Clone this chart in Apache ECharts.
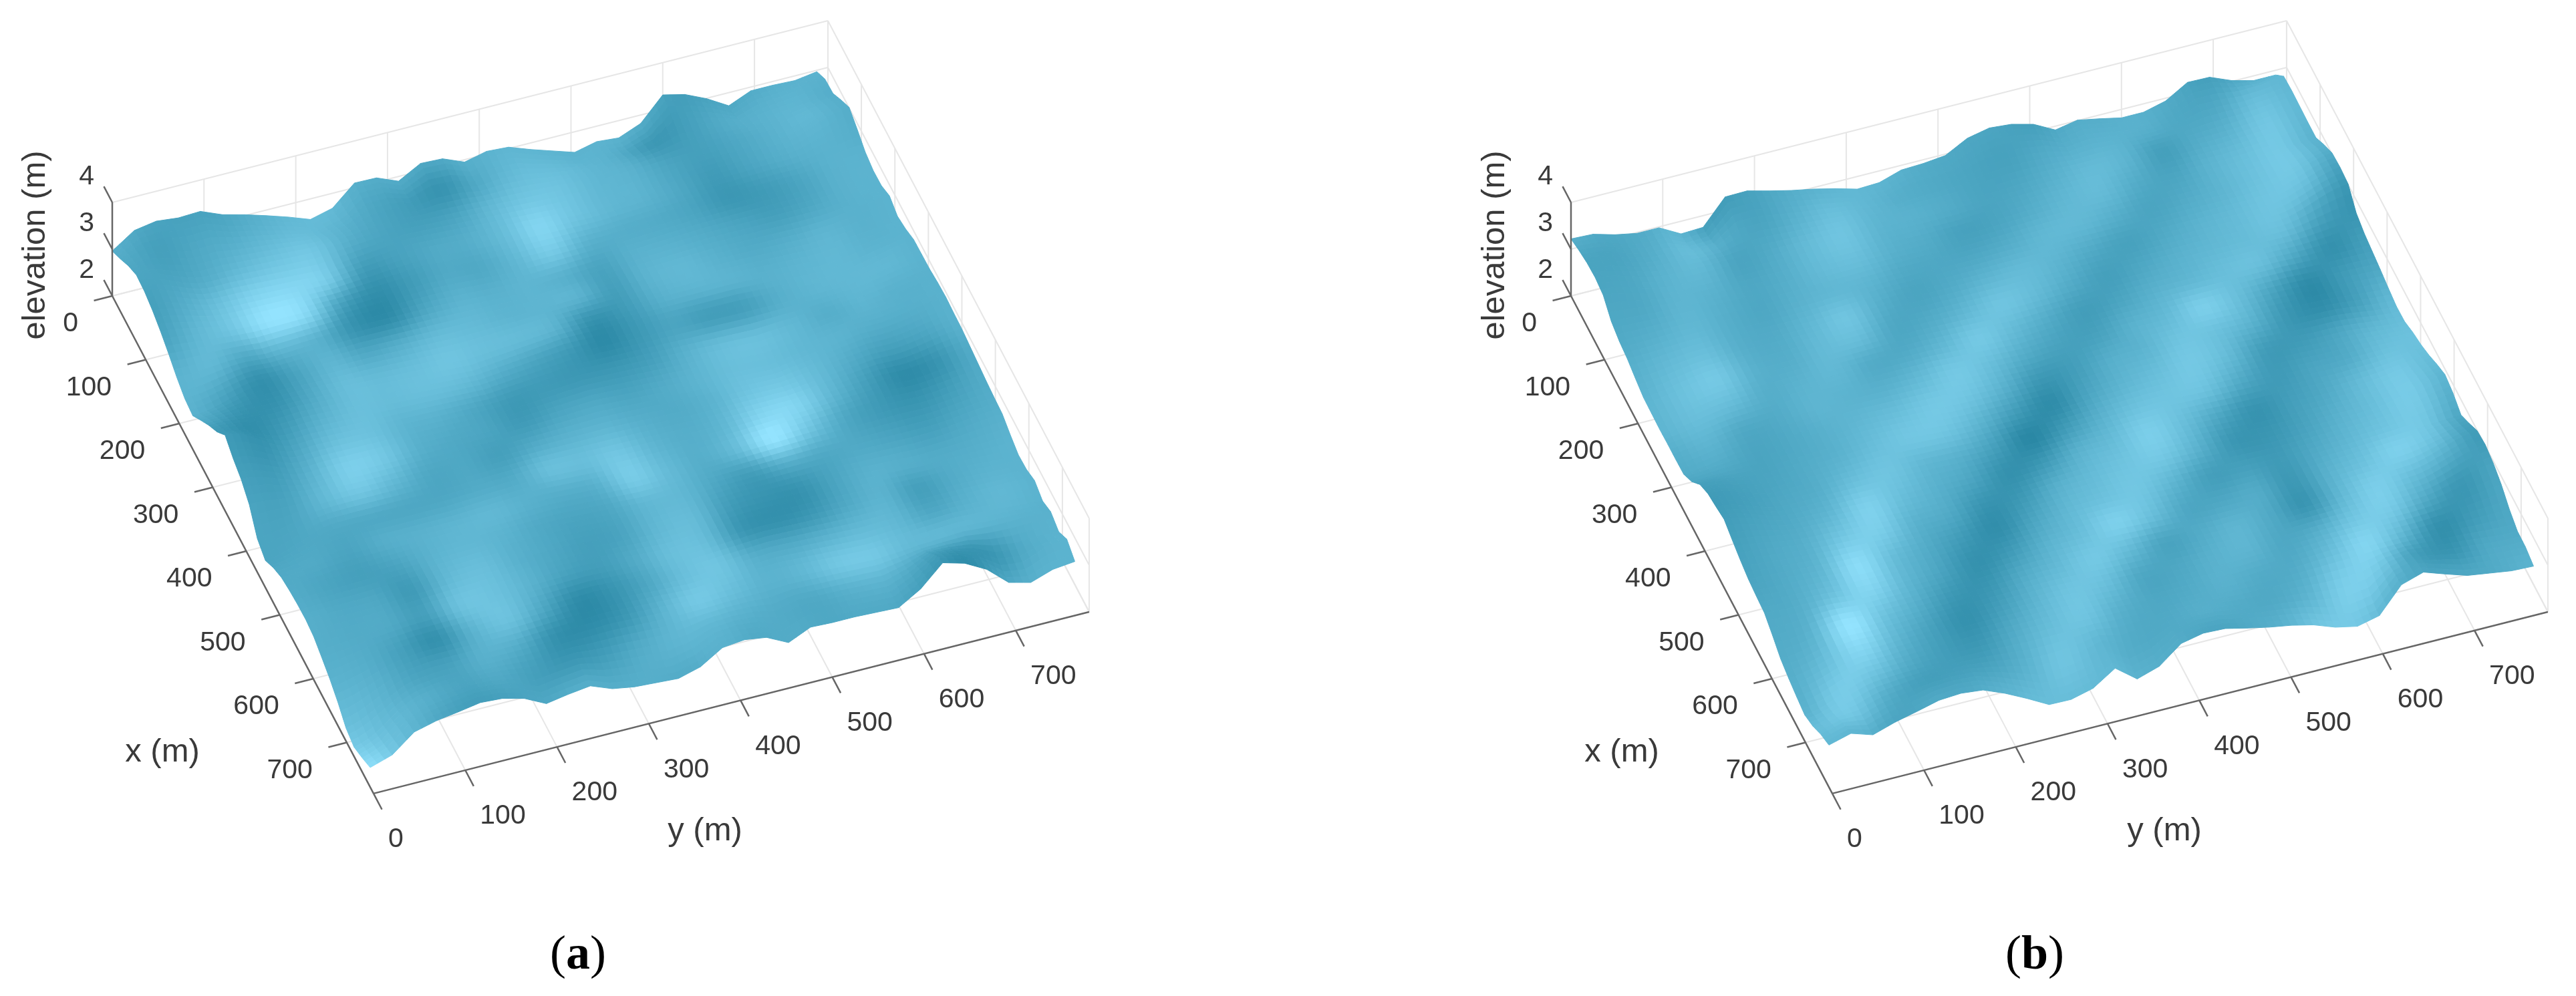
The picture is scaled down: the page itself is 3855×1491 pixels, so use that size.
<!DOCTYPE html>
<html>
<head>
<meta charset="utf-8">
<title>elevation surfaces</title>
<style>
  html, body { margin: 0; padding: 0; background: #fff; }
  #chart { width: 3855px; height: 1491px; }
</style>
<script src="https://cdn.jsdelivr.net/npm/echarts@6/dist/echarts.min.js"></script>
</head>
<body>
<div id="chart"></div>
<script>
const xTicks = [0, 100, 200, 300, 400, 500, 600, 700]
const yTicks = [0, 100, 200, 300, 400, 500, 600, 700]
const zTicks = [2, 3, 4]

// surface outline, elevation (m) read along the four sides
const backA = [2.96,3.28,3.36,3.31,3.33,3.14,3.02,2.88,2.73,2.56,2.68,3.10,3.09,2.90,3.16,3.14,2.95,3.06,3.03,2.86,2.71,2.56,2.67,2.63,2.82,3.31,3.20,2.99,2.72,2.92,2.92,2.90,2.97]
const rightA = [2.97,3.14,3.16,3.35,3.52,3.38,3.22,3.15,3.16,3.27,3.16,3.22,3.32,3.33,3.34,3.38,3.40,3.38,3.37,3.33,3.29,3.25,3.22,3.20,3.08,2.98,3.00,3.09,2.98,3.08,2.98,3.15,3.00]
const leftA = [2.96,3.12,3.30,3.43,3.41,3.33,3.21,3.06,2.89,2.76,2.72,2.95,3.17,3.36,3.62,3.45,3.33,3.12,2.72,2.58,2.75,2.87,2.92,2.95,2.96,2.92,2.80,2.67,2.50,2.28,2.20,2.30,2.42]
const frontA = [2.42,2.57,2.94,3.06,3.13,3.21,3.18,3.06,2.83,2.91,2.97,2.79,2.71,2.68,2.65,2.78,3.07,3.12,3.05,2.82,3.03,3.01,3.01,2.99,2.97,3.25,3.69,3.56,3.31,2.91,2.79,2.95,3.00]

const backB = [3.22,3.20,3.07,2.98,2.98,2.73,2.75,3.28,3.29,3.17,3.06,2.97,2.86,2.73,2.75,2.90,2.92,2.97,3.22,3.32,3.28,3.16,2.92,3.01,2.92,2.82,2.82,2.94,3.22,3.21,3.02,2.90,2.90]
const rightB = [2.90,3.20,3.22,3.21,3.20,3.20,3.38,3.53,3.55,3.52,3.23,3.12,3.06,3.00,2.93,2.87,2.88,2.98,3.05,3.15,3.28,3.39,3.32,3.18,3.33,3.50,3.53,3.46,3.33,3.13,2.99,2.98,2.90]
const leftB = [3.22,3.30,3.36,3.38,3.33,3.10,3.00,2.95,2.86,2.78,2.77,2.76,2.77,2.77,2.78,2.95,3.22,3.35,3.40,3.46,3.35,3.25,3.17,3.13,3.10,2.95,2.78,2.69,2.62,2.56,2.65,2.80,2.90]
const frontB = [2.90,3.03,2.88,3.03,3.14,3.26,3.29,3.24,3.05,2.82,2.57,2.56,2.68,2.99,2.64,2.79,3.16,3.26,3.24,3.13,3.03,2.95,2.84,2.67,2.57,2.68,3.22,3.37,3.21,3.06,2.99,2.92,2.90]

// coarse elevation inside the surface, rows along x, columns along y
const elevA = [
  [3.0,3.1,3.1,3.0,3.0,3.0,3.1,3.0,3.0],
  [3.0,3.0,2.9,3.1,3.0,2.9,3.0,3.1,3.1],
  [3.1,2.9,3.0,3.0,2.9,3.0,3.1,3.1,3.1],
  [3.0,3.1,3.0,2.9,3.1,3.1,3.1,3.0,3.2],
  [2.9,3.0,3.0,3.0,3.1,3.0,2.9,3.2,3.2],
  [3.0,3.0,3.0,3.1,3.0,3.0,3.1,3.2,3.1],
  [2.9,3.0,3.1,3.1,3.0,3.1,3.1,3.0,3.1],
  [2.8,3.0,3.0,3.1,3.0,3.1,3.0,3.1,3.0],
  [2.6,2.9,3.0,3.0,3.0,3.0,3.0,3.2,3.0]
]
const elevB = [
  [3.2,3.1,3.1,3.0,3.0,3.0,3.0,3.0,3.0],
  [3.1,3.0,3.0,3.0,3.0,3.1,3.1,3.1,3.2],
  [3.0,3.0,3.0,3.1,3.1,3.1,3.1,3.1,3.2],
  [2.9,3.0,3.1,3.1,3.0,3.1,3.1,3.1,3.0],
  [2.9,3.0,3.1,3.0,3.0,3.1,3.1,3.0,3.0],
  [3.2,3.1,3.0,3.0,3.1,3.1,3.0,3.0,3.1],
  [3.2,3.0,3.0,3.1,3.1,3.0,3.0,3.1,3.2],
  [3.0,3.0,3.1,3.1,3.0,3.0,3.1,3.1,3.2],
  [2.8,3.1,3.0,3.0,3.1,3.0,3.1,3.1,3.0]
]

// surface brightness 0 (dark) .. 100 (light), rows along x, columns along y
const shadeA = [
  [45,35,32,35,45,55,58,45,42,38,45,52,52,50,50,42,28,35,42,48,50],
  [40,30,38,45,55,62,52,38,28,18,40,58,62,55,45,22,30,42,48,52,45],
  [35,35,45,60,70,72,45,35,30,35,55,70,68,55,50,35,30,38,48,55,45],
  [30,45,65,85,88,75,28,32,40,45,60,85,68,55,50,38,25,35,45,50,45],
  [35,55,70,98,90,35,12,25,40,40,55,75,50,45,42,35,22,25,35,48,50],
  [50,55,40,55,50,18,10,35,50,48,52,48,35,48,48,42,35,30,38,48,50],
  [50,35,15,35,52,38,45,58,58,52,52,50,30,50,55,48,42,45,52,48,50],
  [40,20,15,38,60,58,62,68,62,58,50,18,25,45,50,50,48,52,55,50,50],
  [25,12,25,48,62,60,62,58,45,35,25,8,22,35,28,30,45,52,55,55,50],
  [25,18,38,62,65,52,48,38,25,25,22,22,30,48,60,62,55,45,52,48,48],
  [30,28,50,78,72,48,40,35,25,35,38,35,42,52,62,62,55,50,45,45,48],
  [35,35,55,70,55,38,38,30,42,50,52,45,42,50,68,72,58,42,30,35,48],
  [35,38,40,40,38,38,42,42,62,62,70,52,45,55,85,85,55,30,10,18,42],
  [40,40,35,45,48,52,55,48,45,48,75,58,45,60,100,70,40,25,18,28,42],
  [42,35,30,35,50,55,50,40,35,38,55,55,38,28,45,40,40,35,30,38,45],
  [45,40,38,25,55,62,48,38,30,35,55,58,28,18,18,35,48,45,42,45,50],
  [45,42,40,30,65,65,50,32,28,42,62,60,22,15,22,40,50,30,42,50,50],
  [50,45,30,15,50,65,38,10,18,38,62,68,45,42,50,58,55,38,48,55,50],
  [62,52,35,32,48,42,15,10,22,50,72,62,50,55,70,72,58,55,52,50,48],
  [78,58,45,35,40,30,22,28,42,52,55,48,42,40,48,50,38,22,20,42,50],
  [95,60,38,28,32,38,45,45,45,42,48,40,42,38,40,38,25,10,35,48,50]
]
const shadeB = [
  [45,38,42,52,28,32,42,50,55,50,42,38,35,30,42,45,48,40,30,42,55],
  [35,35,45,60,42,35,48,62,55,45,40,35,32,40,48,50,45,38,40,60,55],
  [35,38,50,55,35,42,58,68,52,48,42,35,38,48,58,52,30,42,52,70,55],
  [38,40,52,48,38,45,58,62,48,42,32,35,45,55,58,42,35,50,62,72,50],
  [42,48,55,45,38,48,55,52,40,38,38,45,55,55,45,35,42,52,65,72,45],
  [48,58,62,45,42,55,68,45,35,42,52,58,52,40,32,40,50,58,68,62,30],
  [52,65,72,48,45,58,60,38,42,55,68,58,42,30,38,48,55,60,62,35,18],
  [52,62,60,45,50,55,42,42,55,72,58,42,28,35,48,55,62,62,38,15,28],
  [45,52,40,42,52,50,48,58,72,62,42,32,32,48,58,78,62,35,10,25,38],
  [40,42,35,40,48,55,62,72,68,48,22,28,45,52,68,65,50,22,12,30,55],
  [30,32,35,42,50,62,70,68,50,25,10,35,52,62,72,58,28,25,35,52,62],
  [25,30,38,45,62,68,55,48,30,5,25,48,65,68,65,40,25,35,42,62,65],
  [28,35,42,55,80,62,48,35,15,22,48,60,78,62,38,18,28,40,58,72,60],
  [32,40,48,72,78,50,40,18,22,45,58,68,72,50,22,20,32,48,62,75,52],
  [35,42,55,92,62,42,25,12,35,55,65,70,52,30,30,25,40,55,68,72,42],
  [40,45,68,85,55,35,15,25,48,62,80,62,38,38,42,22,48,65,80,65,30],
  [42,52,100,68,45,22,20,42,58,72,58,35,42,52,40,20,55,78,62,45,25],
  [45,62,88,55,32,15,30,52,68,62,38,38,48,52,38,45,70,75,42,22,35],
  [48,75,68,42,28,22,42,60,68,48,38,42,48,42,42,62,85,55,15,25,38],
  [60,72,45,30,30,35,50,68,55,42,40,45,42,40,52,78,72,30,18,38,42],
  [55,50,35,40,40,50,60,60,55,48,42,35,40,50,70,72,50,35,38,42,50]
]

const axisMax = 780
const surfaceX = 770
const surfaceY = 768
const fine = 96
const originA = [168, 443]
const originB = [2351, 443]

function project(origin, x, y, z) {
  return [
    origin[0] + x * 0.5013 + y * 1.373,
    origin[1] + x * 0.955 - y * 0.3487 - (z - 2) * 70,
  ]
}

function sampleEdge(arr, f) {
  const p = f * (arr.length - 1)
  const k = Math.min(Math.floor(p), arr.length - 2)
  return arr[k] + (arr[k + 1] - arr[k]) * (p - k)
}

function sampleGrid(grid, u, v) {
  const n = grid.length - 1
  const a = Math.min(Math.floor(u * n), n - 1)
  const b = Math.min(Math.floor(v * n), n - 1)
  const fu = u * n - a
  const fv = v * n - b
  return (
    grid[a][b] * (1 - fu) * (1 - fv) +
    grid[a + 1][b] * fu * (1 - fv) +
    grid[a][b + 1] * (1 - fu) * fv +
    grid[a + 1][b + 1] * fu * fv
  )
}

// colour only: same shading read smoothly between the nodes, no new values stored
function catmull(p0, p1, p2, p3, t) {
  return 0.5 * (2 * p1 + (p2 - p0) * t + (2 * p0 - 5 * p1 + 4 * p2 - p3) * t * t + (3 * p1 - p0 - 3 * p2 + p3) * t * t * t)
}

function sampleShade(grid, u, v) {
  const n = grid.length - 1
  const a = Math.min(Math.floor(u * n), n - 1)
  const b = Math.min(Math.floor(v * n), n - 1)
  const fu = u * n - a
  const fv = v * n - b
  const vals = []
  for (let r = a - 1; r <= a + 2; r++) {
    const row = grid[Math.max(0, Math.min(n, r))]
    vals.push(catmull(row[Math.max(0, b - 1)], row[b], row[b + 1], row[Math.min(n, b + 2)], fv))
  }
  return catmull(vals[0], vals[1], vals[2], vals[3], fu)
}

function falloff(d) {
  const t = Math.max(0, 1 - d / 0.1)
  return t * t * (3 - 2 * t)
}

// fine height table: coarse elevation pulled to the outline arrays near the sides
function buildHeights(elev, back, right, left, front) {
  const rows = []
  for (let i = 0; i <= fine; i++) {
    const u = i / fine
    const row = []
    for (let j = 0; j <= fine; j++) {
      const v = j / fine
      let z = sampleGrid(elev, u, v)
      z += falloff(u) * (sampleEdge(back, v) - sampleGrid(elev, 0, v))
      z += falloff(1 - u) * (sampleEdge(front, v) - sampleGrid(elev, 1, v))
      row.push(z)
    }
    rows.push(row)
  }
  for (let i = 0; i <= fine; i++) {
    const rL = sampleEdge(left, i / fine) - rows[i][0]
    const rR = sampleEdge(right, i / fine) - rows[i][fine]
    for (let j = 0; j <= fine; j++) {
      rows[i][j] += falloff(j / fine) * rL + falloff(1 - j / fine) * rR
    }
  }
  return rows
}

function shadeColor(s) {
  const t = Math.max(0, Math.min(1, s / 100))
  const r = Math.round(36 + (147 - 36) * t)
  const g = Math.round(131 + (227 - 131) * t)
  const b = Math.round(160 + (254 - 160) * t)
  return "rgb(" + r + "," + g + "," + b + ")"
}

function surfaceSeries(origin, heights, shade) {
  const cells = []
  for (let i = 0; i < fine; i++) {
    for (let j = 0; j < fine; j++) cells.push([i, j])
  }
  return {
    type: "custom",
    coordinateSystem: "cartesian2d",
    silent: true,
    progressive: 0,
    animation: false,
    clip: false,
    z: 3,
    data: cells,
    renderItem(params, api) {
      const i = api.value(0)
      const j = api.value(1)
      const corners = [[i, j], [i + 1, j], [i + 1, j + 1], [i, j + 1]]
      const points = corners.map(function (c) {
        const x = (c[0] / fine) * surfaceX
        const y = (c[1] / fine) * surfaceY
        return api.coord(project(origin, x, y, heights[c[0]][c[1]]))
      })
      const color = shadeColor(sampleShade(shade, (i + 0.5) / fine, (j + 0.5) / fine))
      return {
        type: "polygon",
        shape: { points: points },
        style: { fill: color, stroke: color, lineWidth: 1 },
      }
    },
  }
}

function frameSeries(origin) {
  const grid = []
  const top = zTicks[zTicks.length - 1]
  xTicks.forEach(function (x) {
    grid.push([x, 0, 2, x, axisMax, 2])
    grid.push([x, axisMax, 2, x, axisMax, top])
  })
  yTicks.forEach(function (y) {
    grid.push([0, y, 2, axisMax, y, 2])
    grid.push([0, y, 2, 0, y, top])
  })
  zTicks.forEach(function (z) {
    grid.push([0, 0, z, 0, axisMax, z])
    grid.push([0, axisMax, z, axisMax, axisMax, z])
  })
  grid.push([0, axisMax, 2, axisMax, axisMax, 2])
  grid.push([axisMax, 0, 2, axisMax, axisMax, 2])
  grid.push([0, axisMax, 2, 0, axisMax, top])
  grid.push([axisMax, axisMax, 2, axisMax, axisMax, top])

  const axes = [
    [0, 0, 2, axisMax, 0, 2],
    [axisMax, 0, 2, axisMax, axisMax, 2],
    [0, 0, 2, 0, 0, top],
  ]
  xTicks.forEach(function (x) { axes.push([x, 0, 2, x, -20, 2]) })
  yTicks.forEach(function (y) { axes.push([axisMax, y, 2, axisMax + 25, y, 2]) })
  zTicks.forEach(function (z) { axes.push([0, 0, z, -25, 0, z]) })

  const gridStyle = { stroke: "#e6e6e6", lineWidth: 2 }
  const axisStyle = { stroke: "#666666", lineWidth: 2.5 }

  function lineSeries(items, style, zLevel) {
    return {
      type: "custom",
      coordinateSystem: "cartesian2d",
      silent: true,
      animation: false,
      clip: false,
      z: zLevel,
      data: items,
      renderItem(params, api) {
        const a = api.coord(project(origin, api.value(0), api.value(1), api.value(2)))
        const b = api.coord(project(origin, api.value(3), api.value(4), api.value(5)))
        return {
          type: "line",
          shape: { x1: a[0], y1: a[1], x2: b[0], y2: b[1] },
          style: style,
        }
      },
    }
  }
  return [lineSeries(grid, gridStyle, 2), lineSeries(axes, axisStyle, 4)]
}

function labelSeries(origin) {
  const items = []
  xTicks.forEach(function (x) { items.push([x, 0, 2, String(x), -51, 42, "right"]) })
  yTicks.forEach(function (y) { items.push([axisMax, y, 2, String(y), 22, 69, "left"]) })
  zTicks.forEach(function (z) { items.push([0, 0, z, String(z), -27, -38, "right"]) })
  return {
    type: "custom",
    coordinateSystem: "cartesian2d",
    silent: true,
    animation: false,
    clip: false,
    z: 5,
    encode: { x: 0, y: 1 },
    data: items,
    renderItem(params, api) {
      const item = items[params.dataIndex]
      const p = api.coord(project(origin, item[0], item[1], item[2]))
      return {
        type: "text",
        x: p[0] + item[4],
        y: p[1] + item[5],
        style: {
          text: item[3],
          font: '41px "Liberation Sans", Arial, sans-serif',
          fill: "#3a3a3a",
          align: item[6],
          verticalAlign: "middle",
        },
      }
    },
  }
}

function titleElements(dx, letter, letterX) {
  const font = '49px "Liberation Sans", Arial, sans-serif'
  const fill = "#3a3a3a"
  function center(text, x, y, rotation) {
    return {
      type: "text",
      x: x + dx,
      y: y,
      rotation: rotation || 0,
      silent: true,
      style: { text: text, font: font, fill: fill, align: "center", verticalAlign: "middle" },
    }
  }
  return [
    center("elevation (m)", 53, 367, Math.PI / 2),
    center("x (m)", 243, 1126),
    center("y (m)", 1055, 1244),
    {
      type: "text",
      x: letterX,
      y: 1431,
      silent: true,
      style: {
        text: "{p|(}{b|" + letter + "}{p|)}",
        align: "center",
        verticalAlign: "middle",
        rich: {
          p: { font: '72px "Liberation Serif", serif', fill: "#000" },
          b: { font: 'bold 72px "Liberation Serif", serif', fill: "#000" },
        },
      },
    },
  ]
}

const heightsA = buildHeights(elevA, backA, rightA, leftA, frontA)
const heightsB = buildHeights(elevB, backB, rightB, leftB, frontB)

const chart = echarts.init(document.getElementById("chart"), null, { renderer: "canvas" })
chart.setOption({
  backgroundColor: "#ffffff",
  animation: false,
  tooltip: { show: false },
  grid: { left: 0, right: 0, top: 0, bottom: 0 },
  xAxis: { type: "value", min: 0, max: 3855, show: false },
  yAxis: { type: "value", min: 0, max: 1491, inverse: true, show: false },
  graphic: { elements: titleElements(0, "a", 865).concat(titleElements(2184, "b", 3045)) },
  series: [
    ...frameSeries(originA),
    surfaceSeries(originA, heightsA, shadeA),
    labelSeries(originA),
    ...frameSeries(originB),
    surfaceSeries(originB, heightsB, shadeB),
    labelSeries(originB),
  ],
})
</script>
</body>
</html>
